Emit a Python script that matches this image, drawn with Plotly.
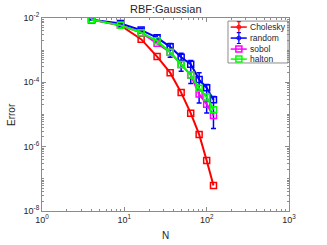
import plotly.graph_objects as go
import numpy as np

N = [4, 9, 16, 25, 36, 49, 64, 81, 100, 121]
cholesky = [8.9e-3, 5.9e-3, 2.2e-3, 6.3e-4, 2.0e-4, 4.8e-5, 1.1e-5, 2.4e-6, 3.7e-7, 6.2e-8]
random_mean = [8.9e-3, 6.72e-3, 4.21e-3, 2.45e-3, 1.27e-3, 6.0e-4, 3.68e-4, 1.22e-4, 6.8e-5, 2.86e-5]
random_hi = [9.1e-3, 7.55e-3, 4.84e-3, 2.96e-3, 1.61e-3, 7.96e-4, 4.77e-4, 2.0e-4, 8.6e-5, 3.62e-5]
random_lo = [8.7e-3, 6.11e-3, 3.74e-3, 1.85e-3, 6.0e-4, 2.2e-4, 9.2e-5, 2.26e-5, 1.12e-5, 3.65e-6]
sobol = [8.9e-3, 5.9e-3, 3.5e-3, 1.65e-3, 8.6e-4, 3.6e-4, 1.7e-4, 4.3e-5, 2.1e-5, 9.3e-6]
halton = [8.9e-3, 5.9e-3, 3.5e-3, 1.95e-3, 8.6e-4, 3.6e-4, 1.7e-4, 6.5e-5, 3.5e-5, 1.4e-5]

series_names = ["Cholesky", "random", "sobol", "halton"]
series_colors = ["#ff0000", "#0000ff", "#ff00ff", "#00ff00"]

x_major = [1, 10, 100, 1000]
x_major_text = ["10<sup>0</sup>", "10<sup>1</sup>", "10<sup>2</sup>", "10<sup>3</sup>"]
y_major = [1e-8, 1e-6, 1e-4, 1e-2]
y_major_text = ["10<sup>-8</sup>", "10<sup>-6</sup>", "10<sup>-4</sup>", "10<sup>-2</sup>"]

x_minor = [m * 10 ** d for d in range(0, 3) for m in range(2, 10)]
y_minor = [m * 10.0 ** d for d in range(-8, -2) for m in range(1, 10) if not (m == 1 and d % 2 == 0)]

FONT = "Liberation Sans, Arial, sans-serif"
TXT = "#262626"
AX = "#8c8c8c"

fig = go.Figure()

plus = [h - m for h, m in zip(random_hi, random_mean)]
minus = [m - l for m, l in zip(random_mean, random_lo)]

data = [cholesky, random_mean, sobol, halton]
for i, (name, col, ys) in enumerate(zip(series_names, series_colors, data)):
    kw = {}
    if name == "random":
        kw["error_y"] = dict(type="data", array=plus, arrayminus=minus, color=col,
                             thickness=1.5, width=2.5)
    fig.add_trace(go.Scatter(
        x=N, y=ys, mode="lines+markers", name=name,
        line=dict(color=col, width=2),
        marker=dict(symbol="square-open", size=6, color=col, line=dict(width=1.5, color=col)),
        showlegend=False, **kw))

# custom legend on an overlay axis (0..1 == plot area)
leg_y = [0.953, 0.896, 0.839, 0.787]
lx0, lx1, lxm = 0.764, 0.829, 0.797
for name, col, yy in zip(series_names, series_colors, leg_y):
    fig.add_trace(go.Scatter(x=[lx0, lx1], y=[yy, yy], mode="lines", xaxis="x2", yaxis="y2",
                             line=dict(color=col, width=1.5), showlegend=False, hoverinfo="skip"))
    if name in ("Cholesky", "random"):
        fig.add_trace(go.Scatter(x=[lxm], y=[yy], mode="markers", xaxis="x2", yaxis="y2",
                                 marker=dict(symbol="circle-open", size=4, color=col,
                                             line=dict(width=1, color=col)),
                                 error_y=dict(type="constant", value=0.028, color=col,
                                              thickness=1.2, width=2),
                                 showlegend=False, hoverinfo="skip"))
    else:
        fig.add_trace(go.Scatter(x=[lxm], y=[yy], mode="markers", xaxis="x2", yaxis="y2",
                                 marker=dict(symbol="square-open", size=6, color=col,
                                             line=dict(width=1.5, color=col)),
                                 showlegend=False, hoverinfo="skip"))
    fig.add_annotation(x=0.834, y=yy, xref="x2", yref="y2", text=name, showarrow=False,
                       xanchor="left", yanchor="middle", font=dict(size=8.5, color=TXT, family=FONT))

fig.add_shape(type="rect", xref="x2", yref="y2", x0=0.753, x1=0.996, y0=0.767, y1=0.984,
              line=dict(color=AX, width=1), fillcolor="rgba(255,255,255,0)", layer="below")

axis_common = dict(showline=True, mirror="ticks", linecolor=AX, linewidth=1,
                   ticks="inside", ticklen=4, tickcolor=AX, tickwidth=1,
                   showgrid=False, zeroline=False, automargin=False,
                   tickfont=dict(size=9, color=TXT, family=FONT))

fig.update_layout(
    width=327, height=245,
    margin=dict(l=42, r=38, t=18, b=34),
    paper_bgcolor="white", plot_bgcolor="white",
    font=dict(family=FONT, color=TXT),
    xaxis=dict(type="log", range=[0, 3], tickmode="array", tickvals=x_major, ticktext=x_major_text,
               minor=dict(tickmode="array", tickvals=x_minor, ticks="inside", ticklen=2,
                          tickcolor=AX, showgrid=False),
               **axis_common),
    yaxis=dict(type="log", range=[-8, -2], tickmode="array", tickvals=y_major, ticktext=y_major_text,
               minor=dict(tickmode="array", tickvals=y_minor, ticks="inside", ticklen=2,
                          tickcolor=AX, showgrid=False),
               **axis_common),
    xaxis2=dict(overlaying="x", range=[0, 1], visible=False, fixedrange=True, automargin=False),
    yaxis2=dict(overlaying="y", range=[0, 1], visible=False, fixedrange=True, automargin=False),
    showlegend=False,
    annotations=list(fig.layout.annotations) + [
        dict(text="RBF:Gaussian", x=0.5, y=1.0, xref="paper", yref="paper", yshift=1,
             xanchor="center", yanchor="bottom", showarrow=False,
             font=dict(size=11, color=TXT, family=FONT)),
        dict(text="N", x=0.5, y=0, xref="paper", yref="paper", yshift=-24,
             xanchor="center", yanchor="middle", showarrow=False,
             font=dict(size=10, color=TXT, family=FONT)),
        dict(text="Error", x=0, y=0.5, xref="paper", yref="paper", xshift=-23,
             xanchor="right", yanchor="middle", textangle=-90, showarrow=False,
             font=dict(size=10, color=TXT, family=FONT)),
    ],
)

fig.write_html("out.html", config={"displayModeBar": False},
               post_script="document.body.style.margin='0';document.body.style.overflow='hidden';")
